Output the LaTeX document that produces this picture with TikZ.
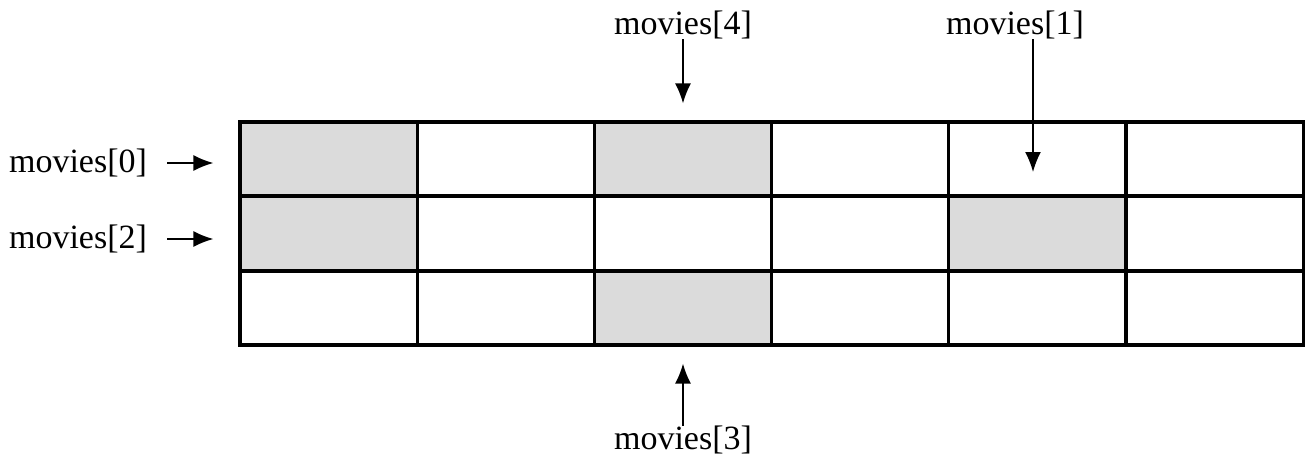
\documentclass[tikz,border=0pt]{standalone}
\usepackage{fontspec}
\setmainfont{Liberation Serif}
\usetikzlibrary{arrows.meta,positioning}

\begin{document}
\begin{tikzpicture}[x=0.5pt, y=-0.5pt,
  cell/.style={draw, line width=1.6pt, minimum width=88.6pt, minimum height=37pt,
               inner sep=0pt, fill=#1},
  cell/.default=white,
  lbl/.style={font=\fontsize{17}{20}\selectfont, inner sep=1pt},
  arr/.style={-{Latex[length=10pt, width=8pt]}, line width=0.8pt}]
\useasboundingbox (0,0) rectangle (1307,461);
% grid of 3 rows x 6 columns
\foreach \r/\y in {0/159, 1/233.5, 2/308} {
  \foreach \c in {0,...,5} {
    \node[cell] (c-\r-\c) at ({240+88.6+177.2*\c}, \y) {};
  }
}
% shaded cells
\foreach \r/\c in {0/0, 0/2, 1/0, 1/4, 2/2}
  \node[cell=gray!28] at (c-\r-\c) {};
\node[lbl] (m0) at (78,163) {movies[0]};
\node[lbl] (m2) at (78,239) {movies[2]};
\node[lbl] (m4) at (683,25) {movies[4]};
\node[lbl] (m1) at (1015,25) {movies[1]};
\node[lbl] (m3) at (683,440) {movies[3]};
\coordinate (t1) at ([yshift=-6.5pt]c-0-4.center);
\draw[arr] (m0.east) ++(18,0) -- ([xshift=-12.5pt]c-0-0.west |- m0.east);
\draw[arr] (m2.east) ++(18,0) -- ([xshift=-12.5pt]c-1-0.west |- m2.east);
\draw[arr] (m4.south) ++(0,-2) -- ([yshift=8.5pt]c-0-2.north);
\draw[arr] ([xshift=9pt]m1.south) ++(0,-2) -- ([xshift=9pt]m1.south |- t1);
\draw[arr] (m3.north) ++(0,2) -- ([yshift=-8.5pt]c-2-2.south);
\end{tikzpicture}
\end{document}
